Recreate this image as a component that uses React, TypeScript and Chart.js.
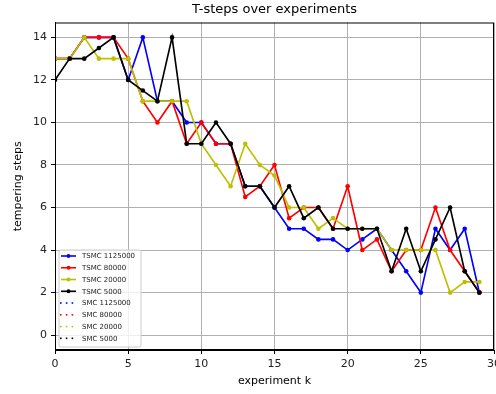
import React, { useEffect, useRef } from "react";
import { Chart, registerables } from "chart.js";

Chart.register(...registerables);

const experiments = [0,1,2,3,4,5,6,7,8,9,10,11,12,13,14,15,16,17,18,19,20,21,22,23,24,25,26,27,28,29];
const tsmc1125000 = [13,13,14,14,14,12,14,11,11,10,10,9,9,7,7,6,5,5,4.5,4.5,4,4.5,5,4,3,2,5,4,5,2];
const tsmc80000 = [13,13,14,14,14,13,11,10,11,9,10,9,9,6.5,7,8,5.5,6,6,5,7,4,4.5,3,4,4,6,4,3,2];
const tsmc20000 = [13,13,14,13,13,13,11,11,11,11,9,8,7,9,8,7.5,6,6,5,5.5,5,5,5,4,4,4,4,2,2.5,2.5];
const tsmc5000 = [12,13,13,13.5,14,12,11.5,11,14,9,9,10,9,7,7,6,7,5.5,6,5,5,5,5,3,5,3,4.5,6,3,2];

const seriesLabels = ["TSMC 1125000", "TSMC 80000", "TSMC 20000", "TSMC 5000"];
const smcLabels = ["SMC 1125000", "SMC 80000", "SMC 20000", "SMC 5000"];
const seriesColors = ["#0000ff", "#ff0000", "#bfbf00", "#000000"];
const xTicks = [0, 5, 10, 15, 20, 25, 30];
const yTicks = [0, 2, 4, 6, 8, 10, 12, 14];

const FONT = "'DejaVu Sans', sans-serif";

const framePlugin = {
  id: "frame",
  afterDraw(chart: any) {
    const { ctx, chartArea } = chart;
    const { left, right, top, bottom } = chartArea;
    ctx.save();
    // spines
    ctx.strokeStyle = "#000";
    ctx.lineWidth = 1;
    ctx.strokeRect(left + 0.5, top + 0.5, right - left - 1, bottom - top - 1);
    // title
    ctx.fillStyle = "#000";
    ctx.font = `13px ${FONT}`;
    ctx.textAlign = "center";
    ctx.textBaseline = "middle";
    ctx.fillText("T-steps over experiments", (left + right) / 2, 10);

    // legend
    const bx = 59, by = 250, bw = 82, bh = 97;
    ctx.fillStyle = "rgba(255,255,255,0.8)";
    ctx.strokeStyle = "#cccccc";
    ctx.lineWidth = 1;
    ctx.beginPath();
    const r = 2;
    ctx.moveTo(bx + r, by);
    ctx.lineTo(bx + bw - r, by);
    ctx.quadraticCurveTo(bx + bw, by, bx + bw, by + r);
    ctx.lineTo(bx + bw, by + bh - r);
    ctx.quadraticCurveTo(bx + bw, by + bh, bx + bw - r, by + bh);
    ctx.lineTo(bx + r, by + bh);
    ctx.quadraticCurveTo(bx, by + bh, bx, by + bh - r);
    ctx.lineTo(bx, by + r);
    ctx.quadraticCurveTo(bx, by, bx + r, by);
    ctx.closePath();
    ctx.fill();
    ctx.stroke();

    const labels = [...seriesLabels, ...smcLabels];
    ctx.font = `7px ${FONT}`;
    ctx.textAlign = "left";
    ctx.textBaseline = "middle";
    labels.forEach((lab, i) => {
      const y = 256 + i * 11.76;
      const color = seriesColors[i % 4];
      ctx.strokeStyle = color;
      ctx.fillStyle = color;
      if (i < 4) {
        ctx.setLineDash([]);
        ctx.lineWidth = 1.6;
        ctx.beginPath();
        ctx.moveTo(61, y);
        ctx.lineTo(76, y);
        ctx.stroke();
        ctx.beginPath();
        ctx.arc(68.5, y, 2, 0, Math.PI * 2);
        ctx.fill();
      } else {
        for (let k = 0; k < 3; k++) {
          ctx.fillRect(60 + k * 5.8, y - 0.8, 1.6, 1.6);
        }
      }
      ctx.fillStyle = "#222";
      ctx.fillText(lab, 82, y + 0.5);
    });
    ctx.restore();
  },
};

export default function App() {
  const ref = useRef<HTMLCanvasElement>(null);
  useEffect(() => {
    if (!ref.current) return;
    const all = [tsmc1125000, tsmc80000, tsmc20000, tsmc5000];
    const datasets = all.map((arr, i) => ({
      label: seriesLabels[i],
      data: experiments.map((x, j) => ({ x, y: arr[j] })),
      borderColor: seriesColors[i],
      backgroundColor: seriesColors[i],
      pointBackgroundColor: seriesColors[i],
      pointBorderWidth: 0,
      pointRadius: 2.3,
      borderWidth: 1.65,
      tension: 0,
      fill: false,
      order: 3 - i,
    }));
    const chart = new Chart(ref.current, {
      type: "line",
      data: { datasets },
      plugins: [framePlugin],
      options: {
        responsive: false,
        animation: false,
        layout: { autoPadding: false, padding: { top: 22.5, right: 2, left: 0, bottom: 0 } },
        plugins: {
          legend: { display: false },
          title: { display: false },
          tooltip: { enabled: false },
        },
        scales: {
          x: {
            type: "linear",
            min: 0,
            max: 30,
            afterBuildTicks: (s: any) => { s.ticks = xTicks.map((v) => ({ value: v })); },
            afterFit: (s: any) => { s.height = 44; s.paddingLeft = 0; s.paddingRight = 0; },
            ticks: { font: { family: FONT, size: 11 }, color: "#222", padding: 4, maxRotation: 0 },
            grid: { color: "#b0b0b0", lineWidth: 1, tickColor: "#000", tickLength: 4 },
            border: { display: true, color: "#000", width: 1 },
            title: { display: true, text: "experiment k", font: { family: FONT, size: 11 }, color: "#000", padding: { top: 0, bottom: 6 } },
          },
          y: {
            type: "linear",
            min: -0.7,
            max: 14.7,
            afterBuildTicks: (s: any) => { s.ticks = yTicks.map((v) => ({ value: v })); },
            afterFit: (s: any) => { s.width = 55; s.paddingTop = 0; s.paddingBottom = 0; },
            ticks: { font: { family: FONT, size: 11 }, color: "#222", padding: 4 },
            grid: { color: "#b0b0b0", lineWidth: 1, tickColor: "#000", tickLength: 4 },
            border: { display: true, color: "#000", width: 1 },
            title: { display: true, text: "tempering steps", font: { family: FONT, size: 11 }, color: "#000", padding: { top: 12, bottom: 0 } },
          },
        },
      },
    } as any);
    return () => chart.destroy();
  }, []);
  return (
    <div style={{ position: "fixed", left: 0, top: 0, width: 496, height: 394, background: "#fff" }}>
      <canvas ref={ref} width={496} height={394} style={{ display: "block" }} />
    </div>
  );
}
